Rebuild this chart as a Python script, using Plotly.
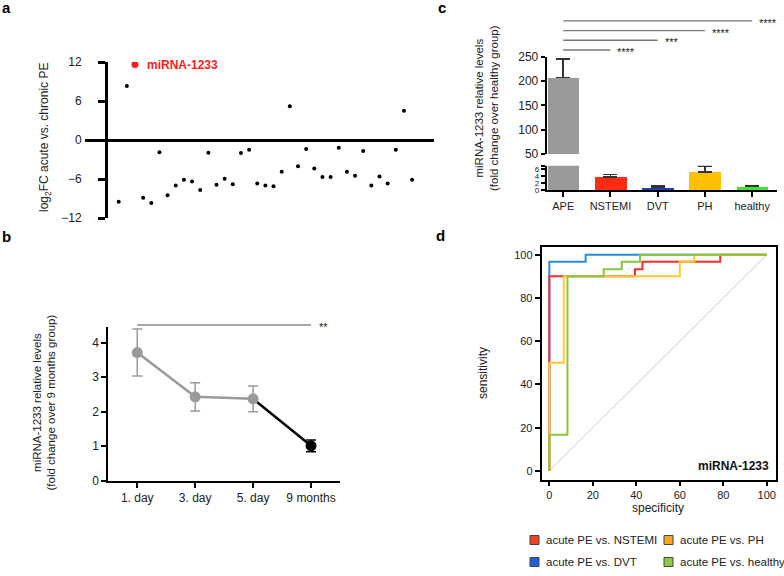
import plotly.graph_objects as go

W, H = 784, 576
FONT = "Liberation Sans, Arial, sans-serif"


def fx(p):
    return p / W


def fy(p):
    return 1 - p / H


# ---------------- Panel a data ----------------
a_log2fc = [-9.5, 8.3, 11.6, -8.9, -9.7, -1.9, -8.5, -7.0, -6.1, -6.4, -7.7, -1.95,
            -6.9, -5.95, -6.8, -2.0, -1.5, -6.7, -7.0, -7.1, -4.9, 5.2, -4.05, -1.4,
            -4.4, -5.7, -5.7, -1.2, -4.9, -5.5, -1.7, -7.0, -5.6, -6.7, -1.5, 4.5, -6.1]
a_highlight_pos = 3          # 1-based position of miRNA-1233
a_highlight_label = "miRNA-1233"
a_ticks = [-12, -6, 0, 6, 12]

# ---------------- Panel b data ----------------
b_days = ["1. day", "3. day", "5. day", "9 months"]
b_mean = [3.71, 2.43, 2.37, 1.01]
b_sem = [0.68, 0.41, 0.37, 0.17]
b_sig = "**"

# ---------------- Panel c data ----------------
c_groups = ["APE", "NSTEMI", "DVT", "PH", "healthy"]
c_mean = [207, 3.8, 0.8, 5.2, 1.0]
c_err = [38, 0.7, 0.4, 1.7, 0.35]
c_colors = ["#9a9a9a", "#ff2b14", "#1e40b4", "#ffc000", "#3ae63a"]
c_sig_targets = ["NSTEMI", "DVT", "PH", "healthy"]
c_sig_labels = ["****", "***", "****", "****"]

# ---------------- Panel d data ----------------
roc_names = ["acute PE vs. NSTEMI", "acute PE vs. PH", "acute PE vs. DVT", "acute PE vs. healthy"]
roc_line_colors = ["#ff2a2a", "#ffc828", "#2a8ae0", "#8cc63f"]
roc_legend_colors = ["#f0401e", "#f5a623", "#1f5fe0", "#8cc84b"]
roc_spec_nstemi = [0, 0, 0, 39.4, 42.8, 78.6, 100]
roc_sens_nstemi = [0, 50, 90, 93.3, 96.7, 100, 100]
roc_spec_ph = [0, 0, 6.67, 60, 66.7, 100]
roc_sens_ph = [0, 50, 90, 96.7, 100, 100]
roc_spec_dvt = [0, 0, 16.7, 100]
roc_sens_dvt = [0, 96.7, 100, 100]
roc_spec_healthy = [0, 0, 8.33, 25, 33.3, 41.7, 100]
roc_sens_healthy = [0, 16.7, 90, 93.3, 96.7, 100, 100]
roc_ticks = [0, 20, 40, 60, 80, 100]
roc_label = "miRNA-1233"

tick_font = dict(family=FONT, size=12, color="#222")
small_font = dict(family=FONT, size=11, color="#222")

fig = go.Figure()

# ---------- Panel a ----------
a_pos = list(range(1, len(a_log2fc) + 1))
fig.add_trace(go.Scatter(
    x=[p for p in a_pos if p != a_highlight_pos],
    y=[v for p, v in zip(a_pos, a_log2fc) if p != a_highlight_pos],
    mode="markers", marker=dict(size=4, color="black"),
    xaxis="x", yaxis="y", showlegend=False, hoverinfo="skip"))
fig.add_trace(go.Scatter(
    x=[a_highlight_pos], y=[a_log2fc[a_highlight_pos - 1]],
    mode="markers", marker=dict(size=7, color="#ff1a1a"),
    xaxis="x", yaxis="y", showlegend=False, hoverinfo="skip"))

# ---------- Panel b ----------
fig.add_trace(go.Scatter(
    x=b_days[2:], y=b_mean[2:], mode="lines",
    line=dict(color="black", width=2.5),
    xaxis="x2", yaxis="y2", showlegend=False, hoverinfo="skip"))
fig.add_trace(go.Scatter(
    x=b_days[:3], y=b_mean[:3], mode="lines+markers",
    line=dict(color="#9a9a9a", width=2.5),
    marker=dict(size=11, color="#9a9a9a"),
    error_y=dict(type="data", array=b_sem[:3], color="#9a9a9a", thickness=1.5, width=5),
    xaxis="x2", yaxis="y2", showlegend=False, hoverinfo="skip"))
fig.add_trace(go.Scatter(
    x=b_days[3:], y=b_mean[3:], mode="markers",
    marker=dict(size=11, color="black"),
    error_y=dict(type="data", array=b_sem[3:], color="black", thickness=1.5, width=5),
    xaxis="x2", yaxis="y2", showlegend=False, hoverinfo="skip"))

# ---------- Panel c (broken axis) ----------
for ya in ["y3", "y4"]:
    fig.add_trace(go.Bar(
        x=c_groups, y=c_mean, width=0.67,
        marker=dict(color=c_colors, line=dict(width=0)),
        error_y=dict(type="data", symmetric=False, array=c_err,
                     arrayminus=[0] * len(c_err), color="#333", thickness=1.5, width=7),
        xaxis="x3", yaxis=ya, showlegend=False, hoverinfo="skip"))

# ---------- Panel d (ROC) ----------
fig.add_trace(go.Scatter(
    x=[roc_ticks[0], roc_ticks[-1]], y=[roc_ticks[0], roc_ticks[-1]], mode="lines",
    line=dict(color="#d6c6c6", width=1), xaxis="x4", yaxis="y5",
    showlegend=False, hoverinfo="skip"))
roc_order = [
    (roc_spec_dvt, roc_sens_dvt, 2),
    (roc_spec_nstemi, roc_sens_nstemi, 0),
    (roc_spec_ph, roc_sens_ph, 1),
    (roc_spec_healthy, roc_sens_healthy, 3),
]
for xs, ys, k in roc_order:
    fig.add_trace(go.Scatter(
        x=xs, y=ys, mode="lines", line=dict(color=roc_line_colors[k], width=2, shape="hv"),
        name=roc_names[k], xaxis="x4", yaxis="y5", showlegend=False, hoverinfo="skip"))

# ---------- Layout ----------
line_ax = dict(showline=True, linecolor="black", ticks="outside", tickcolor="black",
               showgrid=False, zeroline=False)

a_px_per = 8.15
a_first_px = 118.7
a_xlo = 1 - (a_first_px - 85) / a_px_per
a_xhi = 1 + (434 - a_first_px) / a_px_per

fig.update_layout(
    width=W, height=H, margin=dict(l=0, r=0, t=0, b=0),
    paper_bgcolor="white", plot_bgcolor="white",
    font=dict(family=FONT, color="#222"),
    template="none",
    bargap=0,
    xaxis=dict(domain=[fx(85), fx(434)], range=[a_xlo, a_xhi], visible=False, anchor="y"),
    yaxis=dict(domain=[fy(218), fy(62)], range=[-12, 12], anchor="free", position=fx(106),
               tickvals=a_ticks, showline=True, linewidth=3, linecolor="black",
               ticks="outside", ticklen=7, tickwidth=3, tickcolor="black",
               zeroline=True, zerolinewidth=3, zerolinecolor="black", showgrid=False,
               tickfont=tick_font, ticklabelstandoff=14),
    xaxis2=dict(domain=[fx(108.3), fx(340)], anchor="y2", type="category",
                categoryorder="array", categoryarray=b_days, range=[-0.5, 3.5],
                linewidth=2, ticklen=5, tickwidth=2, tickfont=tick_font, **line_ax),
    yaxis2=dict(domain=[fy(480.7), fy(326.7)], anchor="x2", range=[0, 4.46],
                tick0=0, dtick=1, linewidth=2, ticklen=5, tickwidth=2,
                tickfont=tick_font, **line_ax),
    xaxis3=dict(domain=[fx(546.7), fx(776.7)], anchor="y4", type="category",
                categoryorder="array", categoryarray=c_groups, range=[-0.35, 4.52],
                linewidth=2, ticklen=5, tickwidth=2, tickfont=small_font, **line_ax),
    yaxis3=dict(domain=[fy(154), fy(56.7)], anchor="x3", range=[50, 250],
                tickvals=[50, 100, 150, 200, 250], linewidth=2, ticklen=4, tickwidth=2,
                tickfont=tick_font, **line_ax),
    yaxis4=dict(domain=[fy(190), fy(165.7)], anchor="x3", range=[0, 7],
                tickvals=[0, 2, 4, 6], linewidth=2, ticklen=4, tickwidth=2,
                tickfont=dict(family=FONT, size=8, color="#222"),
                minor=dict(tickvals=[7], ticks="outside", ticklen=4, tickwidth=2,
                           tickcolor="black", showgrid=False),
                **line_ax),
    xaxis4=dict(domain=[fx(541.7), fx(775.7)], anchor="y5", range=[-3.5, 104.1],
                tickvals=roc_ticks, mirror=True, linewidth=2, ticklen=4, tickwidth=1.5,
                tickfont=small_font, **line_ax),
    yaxis5=dict(domain=[fy(480), fy(246.7)], anchor="x4", range=[-4.2, 103.7],
                tickvals=roc_ticks, mirror=True, linewidth=2, ticklen=5, tickwidth=1.5,
                tickfont=small_font, **line_ax),
)

ann = []
shapes = []


def paper_text(text, px, py, size=12, angle=0, bold=False, color="#222"):
    return dict(text=f"<b>{text}</b>" if bold else text, x=fx(px), y=fy(py),
                xref="paper", yref="paper", xanchor="center", yanchor="middle",
                textangle=angle, showarrow=False,
                font=dict(family=FONT, size=size, color=color))


# panel letters
for letter, (px, py) in zip("abcd", [(6, 7), (6, 237), (441.7, 7), (440.7, 235)]):
    ann.append(paper_text(letter, px, py, size=15, bold=True, color="black"))

# axis titles
ann.append(paper_text("log<sub>2</sub>FC acute vs. chronic PE", 45, 138, size=12, angle=-90))
ann.append(paper_text("miRNA-1233 relative levels<br>(fold change over 9 months group)",
                      43.5, 403, size=11.5, angle=-90))
ann.append(paper_text("miRNA-1233 relative levels<br>(fold change over healthy group)",
                      486, 108, size=11.5, angle=-90))
ann.append(paper_text("sensitivity", 483, 373, size=12, angle=-90))
ann.append(paper_text("specificity", 658, 508, size=12))

# panel a highlight label
ann.append(dict(text=f"<b>{a_highlight_label}</b>", x=a_highlight_pos,
                y=a_log2fc[a_highlight_pos - 1], xref="x", yref="y", xanchor="left",
                yanchor="middle", xshift=10, showarrow=False,
                font=dict(family=FONT, size=12, color="#ff1a1a")))

# panel b significance
shapes.append(dict(type="line", xref="x2", yref="y2 domain", x0=b_days[0], x1=b_days[-1],
                   y0=1.011, y1=1.011, line=dict(color="#888", width=1.5)))
ann.append(dict(text=b_sig, x=b_days[-1], xref="x2", y=1.011, yref="y2 domain",
                xanchor="center", yanchor="middle",
                xshift=12, yshift=-2, showarrow=False,
                font=dict(family=FONT, size=11, color="#222")))

# panel c significance
for k, (tgt, lab) in enumerate(zip(c_sig_targets, c_sig_labels)):
    yy = 1.069 + 0.1 * k
    shapes.append(dict(type="line", xref="x3", yref="y3 domain", x0=c_groups[0], x1=tgt,
                       y0=yy, y1=yy, line=dict(color="#777", width=1.3)))
    ann.append(dict(text=lab, x=tgt, xref="x3", y=yy, yref="y3 domain", xanchor="left",
                    yanchor="middle", xshift=5, yshift=-2, showarrow=False,
                    font=dict(family=FONT, size=11, color="#222")))

# panel d label
ann.append(dict(text=f"<b>{roc_label}</b>", x=0.979, y=0.02, xref="x4 domain",
                yref="y5 domain", xanchor="right", yanchor="bottom", showarrow=False,
                font=dict(family=FONT, size=12, color="#111")))

# manual legend (2x2)
leg_cols = [534.5, 668.5]
leg_rows = [540, 562]
for k, name in enumerate(roc_names):
    cx = leg_cols[k % 2]
    cy = leg_rows[k // 2]
    shapes.append(dict(type="rect", xref="paper", yref="paper",
                       x0=fx(cx - 4.5), x1=fx(cx + 4.5), y0=fy(cy + 4.5), y1=fy(cy - 4.5),
                       fillcolor=roc_legend_colors[k], line=dict(color="#444", width=1)))
    ann.append(dict(text=name, x=fx(cx + 9.5), y=fy(cy), xref="paper", yref="paper",
                    xanchor="left", yanchor="middle", showarrow=False,
                    font=dict(family=FONT, size=11.5, color="#222")))

fig.update_layout(annotations=ann, shapes=shapes)
fig.write_html("out.html",
               config={"displayModeBar": False},
               post_script="document.body.style.margin='0';document.body.style.padding='0';")
